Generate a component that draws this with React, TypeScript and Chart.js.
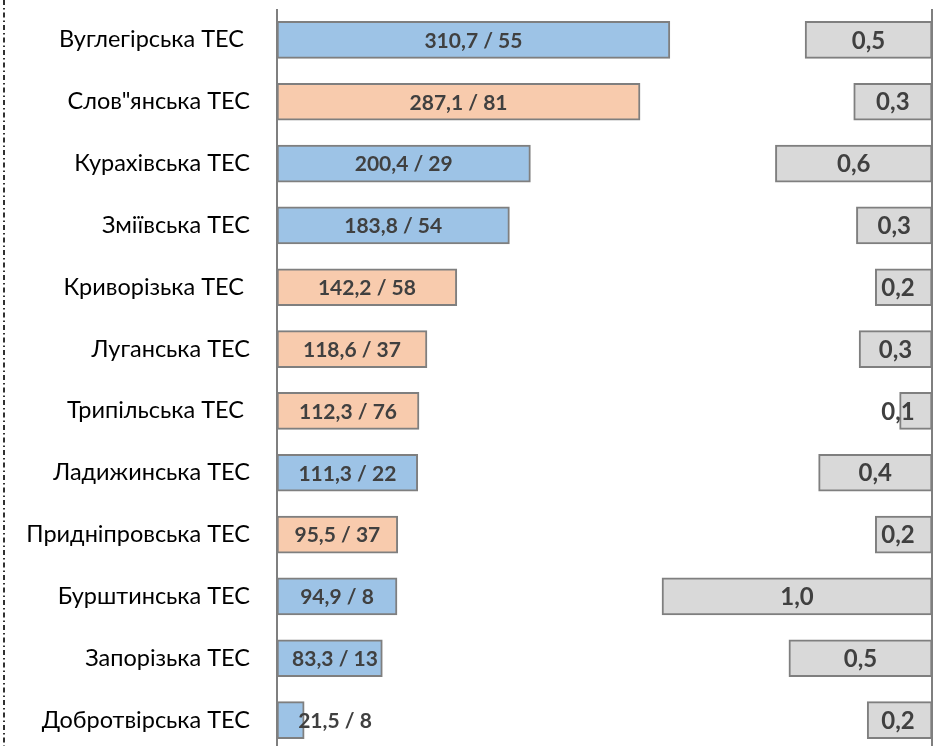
import React, { useEffect, useRef } from "react";
import { Chart, registerables } from "chart.js";

Chart.register(...registerables);

const categories = [
  "Вуглегірська ТЕС ",
  "Слов\"янська ТЕС",
  "Курахівська ТЕС",
  "Зміївська ТЕС",
  "Криворізька ТЕС ",
  "Луганська ТЕС",
  "Трипільська ТЕС ",
  "Ладижинська ТЕС",
  "Придніпровська ТЕС",
  "Бурштинська ТЕС",
  "Запорізька ТЕС",
  "Добротвірська ТЕС",
];
const mainValues = [310.7, 287.1, 200.4, 183.8, 142.2, 118.6, 112.3, 111.3, 95.5, 94.9, 83.3, 21.5];
const secondNumbers = [55, 81, 29, 54, 58, 37, 76, 22, 37, 8, 13, 8];
const rightValues = [0.47, 0.29, 0.58, 0.28, 0.21, 0.27, 0.12, 0.42, 0.21, 1.0, 0.53, 0.24];
const isOrange = [false, true, false, false, true, true, true, false, true, false, false, false];

const BLUE = "#9DC3E6";
const ORANGE = "#F8CBAD";
const GRAY = "#D9D9D9";
const EDGE = "#7F7F7F";
const LABEL_FONT = "Lato, 'Open Sans', sans-serif";

const overlayPlugin = {
  id: "overlay",
  beforeDraw(chart: any) {
    const { ctx } = chart;
    ctx.save();
    ctx.strokeStyle = "#303030";
    ctx.lineWidth = 2;
    ctx.setLineDash([5, 3, 1.5, 3]);
    ctx.beginPath();
    ctx.moveTo(4, 0);
    ctx.lineTo(4, chart.height);
    ctx.stroke();
    ctx.restore();
  },
  afterDatasetsDraw(chart: any) {
    const { ctx, chartArea } = chart;
    ctx.save();
    ctx.strokeStyle = EDGE;
    ctx.lineWidth = 2;
    ctx.beginPath();
    ctx.moveTo(chartArea.left, chartArea.top);
    ctx.lineTo(chartArea.left, chart.height);
    ctx.moveTo(chartArea.right, chartArea.top);
    ctx.lineTo(chartArea.right, chart.height);
    ctx.stroke();

    ctx.fillStyle = "#404040";
    ctx.textAlign = "center";
    ctx.textBaseline = "middle";
    ctx.font = "bold 21px " + LABEL_FONT;
    const m0 = chart.getDatasetMeta(0);
    m0.data.forEach((bar: any, i: number) => {
      const txt = mainValues[i].toFixed(1).replace(".", ",") + " / " + secondNumbers[i];
      const cx = Math.max((bar.base + bar.x) / 2, chartArea.left + 58);
      ctx.fillText(txt, cx, bar.y + 1);
    });
    ctx.font = "bold 24px " + LABEL_FONT;
    const m1 = chart.getDatasetMeta(1);
    m1.data.forEach((bar: any, i: number) => {
      const txt = rightValues[i].toFixed(1).replace(".", ",");
      const cx = Math.min((bar.base + bar.x) / 2, chartArea.right - 34);
      ctx.fillText(txt, cx, bar.y + 1);
    });
    ctx.restore();
  },
};

export default function App() {
  const ref = useRef<HTMLCanvasElement>(null);
  useEffect(() => {
    if (!ref.current) return;
    const chart = new Chart(ref.current, {
      type: "bar",
      data: {
        labels: categories,
        datasets: [
          {
            data: mainValues,
            xAxisID: "x",
            backgroundColor: isOrange.map((o) => (o ? ORANGE : BLUE)),
            borderColor: EDGE,
            borderWidth: 2,
            borderSkipped: false,
            barThickness: 37,
            grouped: false,
          },
          {
            data: rightValues,
            xAxisID: "x2",
            backgroundColor: GRAY,
            borderColor: EDGE,
            borderWidth: 2,
            borderSkipped: false,
            barThickness: 37,
            grouped: false,
          },
        ],
      },
      options: {
        indexAxis: "y",
        animation: false,
        responsive: false,
        maintainAspectRatio: false,
        layout: { padding: { top: 9, right: 1, bottom: 9, left: 0 } },
        plugins: { legend: { display: false }, tooltip: { enabled: false } },
        scales: {
          x: { display: false, min: 0, max: 518 },
          x2: { display: false, min: 0, max: 2.426, reverse: true },
          y: {
            grid: { display: false, drawTicks: false },
            border: { display: false },
            afterFit: (s: any) => {
              s.width = 277;
              s.paddingTop = 0;
              s.paddingBottom = 0;
            },
            ticks: {
              padding: 27,
              color: "#000000",
              font: { family: LABEL_FONT, size: 23.5 },
            },
          },
        },
      },
      plugins: [overlayPlugin],
    });
    return () => chart.destroy();
  }, []);
  return (
    <div style={{ position: "fixed", left: 0, top: 0, width: 933, height: 760, background: "#fff" }}>
      <canvas ref={ref} width={933} height={760} />
    </div>
  );
}
